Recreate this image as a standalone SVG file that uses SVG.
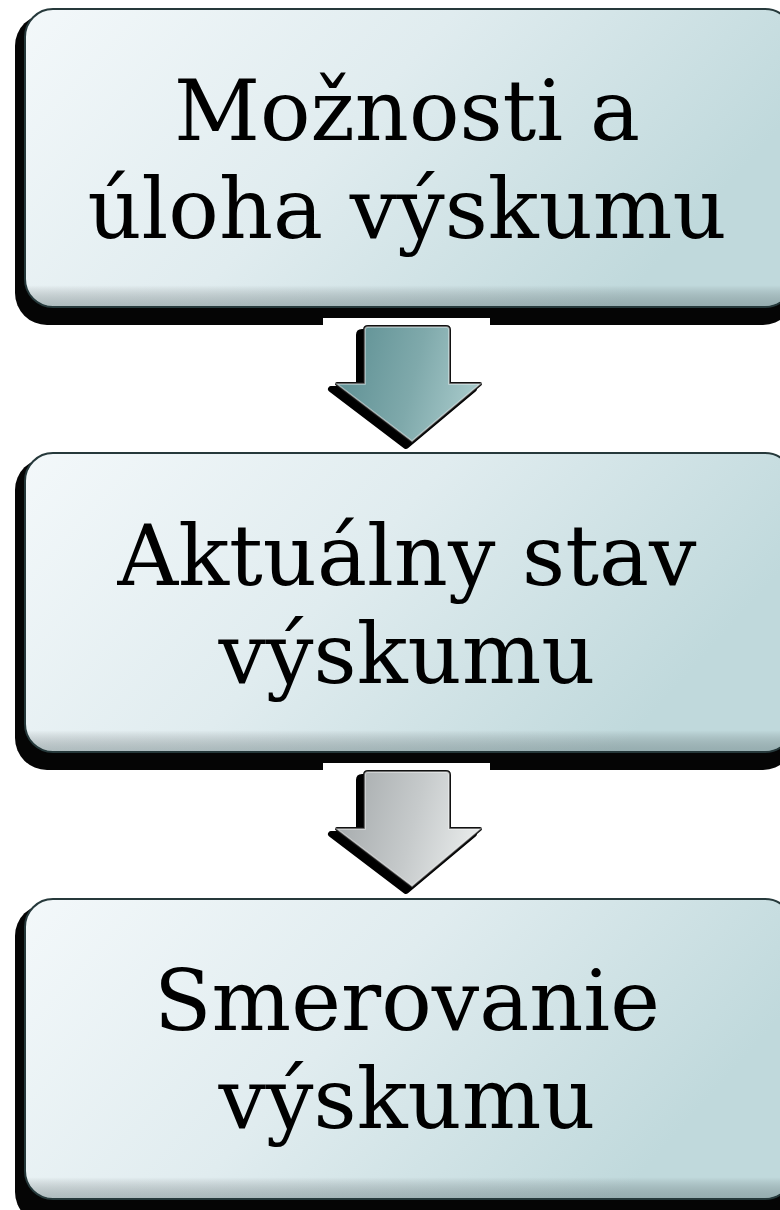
<svg xmlns="http://www.w3.org/2000/svg" width="780" height="1210" viewBox="0 0 780 1210">
  <defs>
    <linearGradient id="boxFill" x1="0" y1="0" x2="1" y2="0.35">
      <stop offset="0" stop-color="#f3f8fa"/>
      <stop offset="0.5" stop-color="#e0ecef"/>
      <stop offset="1" stop-color="#c0d9dc"/>
    </linearGradient>
    <linearGradient id="boxShade" x1="0" y1="0" x2="0" y2="1">
      <stop offset="0.93" stop-color="#000" stop-opacity="0"/>
      <stop offset="1" stop-color="#4a5e60" stop-opacity="0.35"/>
    </linearGradient>
    <linearGradient id="tealArrow" x1="0" y1="0" x2="1" y2="0.2">
      <stop offset="0" stop-color="#5a8d91"/>
      <stop offset="0.6" stop-color="#7fa9ab"/>
      <stop offset="1" stop-color="#a3c6c7"/>
    </linearGradient>
    <linearGradient id="grayArrow" x1="0" y1="0" x2="1" y2="0.2">
      <stop offset="0" stop-color="#a2a7a9"/>
      <stop offset="0.6" stop-color="#c6cacb"/>
      <stop offset="1" stop-color="#e4e7e7"/>
    </linearGradient>
    <path id="arrowShape" d="M368,327 H446 Q449,327 449,330 V384 H480 L412,441 L337,384 H365 V330 Q365,327 368,327 Z"/>
  </defs>
  <style>
    .shadow { fill: #050505; }
    .box { fill: url(#boxFill); stroke: #26393b; stroke-width: 2; }
    .shade { fill: url(#boxShade); }
    .label { font-family: "DejaVu Serif", "Liberation Serif", serif; font-size: 84px; fill: #000; text-anchor: middle; }
    .mask { fill: #ffffff; }
    .ashadow { fill: #000; stroke: #000; stroke-width: 6; stroke-linejoin: round; }
    .aoutline { fill: #000; stroke: #111; stroke-width: 4; stroke-linejoin: round; }
    .ahl { fill: none; stroke: #ffffff; stroke-opacity: 0.5; stroke-width: 1.5; }
  </style>
  <rect width="780" height="1210" fill="#ffffff"/>

  <g id="node1">
    <rect class="shadow" x="15" y="14" width="780" height="311" rx="32"/>
    <rect class="box" x="25" y="9" width="768" height="298" rx="28"/>
    <rect class="shade" x="26" y="10" width="766" height="296" rx="27"/>
    <text class="label" x="407" y="140">Možnosti a</text>
    <text class="label" x="407" y="238">úloha výskumu</text>
  </g>

  <g id="node2">
    <rect class="shadow" x="15" y="458" width="780" height="312" rx="32"/>
    <rect class="box" x="25" y="453" width="768" height="299" rx="28"/>
    <rect class="shade" x="26" y="454" width="766" height="297" rx="27"/>
    <text class="label" x="407" y="585">Aktuálny stav</text>
    <text class="label" x="407" y="683">výskumu</text>
  </g>

  <g id="node3">
    <rect class="shadow" x="15" y="904" width="780" height="320" rx="32"/>
    <rect class="box" x="25" y="899" width="768" height="300" rx="28"/>
    <rect class="shade" x="26" y="900" width="766" height="298" rx="27"/>
    <text class="label" x="407" y="1030">Smerovanie</text>
    <text class="label" x="407" y="1128">výskumu</text>
  </g>

  <g id="connectors">
    <g id="arrow1">
      <rect class="mask" x="323" y="318" width="167" height="132"/>
      <use href="#arrowShape" class="ashadow" transform="translate(-6,5)"/>
      <use href="#arrowShape" class="aoutline"/>
      <use href="#arrowShape" fill="url(#tealArrow)"/>
      <use href="#arrowShape" class="ahl"/>
    </g>
    <g id="arrow2">
      <rect class="mask" x="323" y="763" width="167" height="132"/>
      <use href="#arrowShape" class="ashadow" transform="translate(-6,450)"/>
      <use href="#arrowShape" class="aoutline" transform="translate(0,445)"/>
      <use href="#arrowShape" fill="url(#grayArrow)" transform="translate(0,445)"/>
      <use href="#arrowShape" class="ahl" transform="translate(0,445)"/>
    </g>
  </g>
</svg>
